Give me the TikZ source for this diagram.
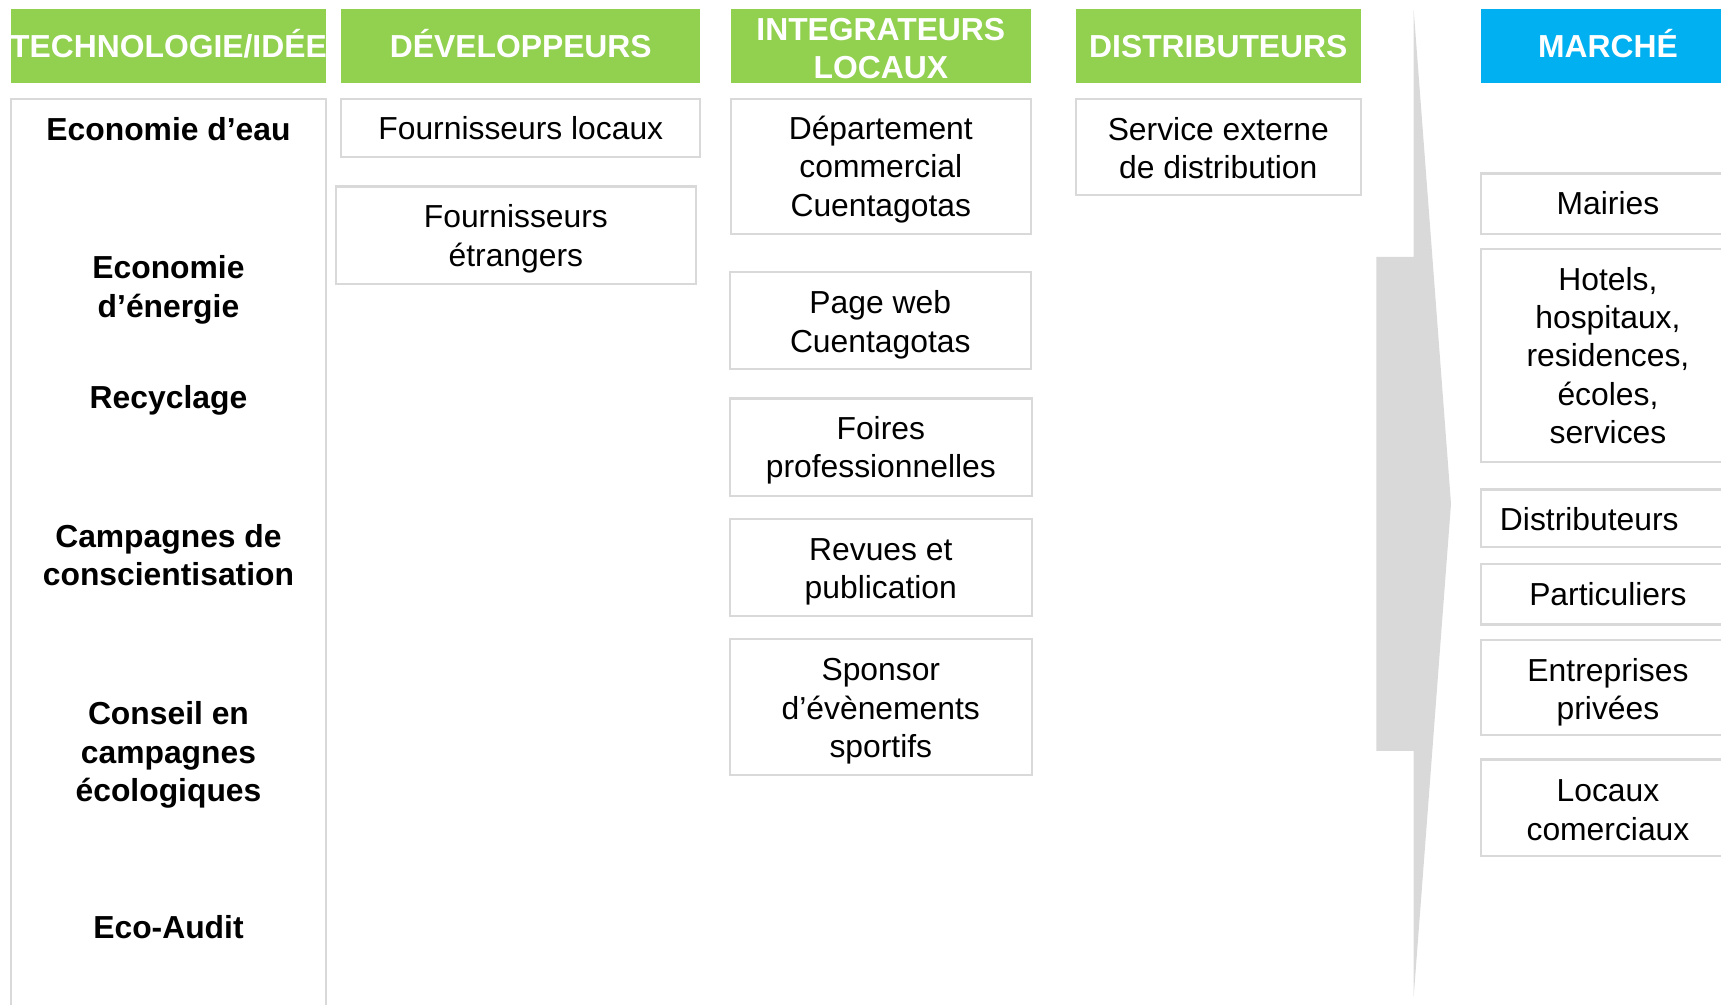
\documentclass[tikz,border=0pt]{standalone}
\usepackage{fontspec}
\setmainfont{Liberation Sans}
\definecolor{hgreen}{HTML}{92D050}
\definecolor{hblue}{HTML}{00B0F0}
\definecolor{cellborder}{HTML}{D9D9D9}
\definecolor{arrowgray}{HTML}{D9D9D9}
\tikzset{
  hdr/.style={fill=hgreen, draw=none, inner sep=0pt},
  hdrblue/.style={hdr, fill=hblue},
  hdrtext/.style={text=white, inner sep=0pt, align=center,
    font=\fontsize{14.5}{17.5}\selectfont\bfseries},
  cell/.style={draw=cellborder, line width=1pt, fill=white, inner sep=0pt},
  celltext/.style={inner sep=0pt, align=center, font=\fontsize{14.5}{17.5}\selectfont},
  techtext/.style={inner sep=0pt, align=center, font=\fontsize{14.5}{17.5}\selectfont\bfseries},
  bigbox/.style={draw=cellborder, line width=1pt, fill=white},
}
\begin{document}
\begin{tikzpicture}[x=0.5pt, y=-0.5pt]
\useasboundingbox (0,0) rectangle (1568,915);
% headers
\node[hdr, minimum width=143.5pt, minimum height=34pt] (h1) at (153.5,42) {};
\node[hdrtext] (h1t) at ([yshift=1pt]h1.center) {TECHNOLOGIE/IDÉE};
\node[hdr, minimum width=163.5pt, minimum height=34pt] (h2) at (474.5,42) {};
\node[hdrtext] (h2t) at ([yshift=1pt]h2.center) {DÉVELOPPEURS};
\node[hdr, minimum width=136.5pt, minimum height=34pt] (h3) at (802.5,42) {};
\node[hdrtext] (h3t) at ([yshift=-1pt]h3.center) {INTEGRATEURS\\LOCAUX};
\node[hdr, minimum width=130pt, minimum height=34pt] (h4) at (1110,42) {};
\node[hdrtext] (h4t) at (h4.center) {DISTRIBUTEURS};
\node[hdrblue, minimum width=116pt, minimum height=34pt] (h5) at (1465,42) {};
\node[hdrtext] (h5t) at ([yshift=1pt]h5.center) {MARCHÉ};
% column 1
\draw[bigbox] (10,90) rectangle (297,935);
\node[techtext] (t1) at (153.5,118) {Economie d’eau};
\node[techtext] (t2) at (153.5,264) {Economie\\d’énergie};
\node[techtext] (t3) at (153.5,365) {Recyclage};
\node[techtext] (t4) at (153.5,506) {Campagnes de\\conscientisation};
\node[techtext] (t5) at (153.5,688) {Conseil en\\campagnes\\écologiques};
\node[techtext] (t6) at (153.5,845) {Eco-Audit};
% column 2
\node[cell, minimum width=163.5pt, minimum height=26.5pt] (d1) at (474.5,116.5) {};
\node[celltext] (d1t) at (d1.center) {Fournisseurs locaux};
\node[cell, minimum width=164pt, minimum height=44.5pt] (d2) at (470,214.5) {};
\node[celltext] (d2t) at ([yshift=-1.5pt]d2.center) {Fournisseurs\\étrangers};
% column 3
\node[cell, minimum width=136.5pt, minimum height=61.5pt] (i1) at (802.5,151.5) {};
\node[celltext] (i1t) at ([yshift=-1.5pt]i1.center) {Département\\commercial\\Cuentagotas};
\node[cell, minimum width=137pt, minimum height=44pt] (i2) at (802,292) {};
\node[celltext] (i2t) at ([yshift=-2pt]i2.center) {Page web\\Cuentagotas};
\node[cell, minimum width=137.5pt, minimum height=44.5pt] (i3) at (802.5,407.5) {};
\node[celltext] (i3t) at ([yshift=-1.5pt]i3.center) {Foires\\professionnelles};
\node[cell, minimum width=137.5pt, minimum height=44pt] (i4) at (802.5,517) {};
\node[celltext] (i4t) at ([yshift=-2pt]i4.center) {Revues et\\publication};
\node[cell, minimum width=137.5pt, minimum height=62pt] (i5) at (802.5,644) {};
\node[celltext] (i5t) at ([yshift=-2pt]i5.center) {Sponsor\\d’évènements\\sportifs};
% column 4
\node[cell, minimum width=130pt, minimum height=44pt] (s1) at (1110,134) {};
\node[celltext] (s1t) at ([yshift=-0.5pt]s1.center) {Service externe\\de distribution};
% arrow
\fill[arrowgray] (1254,234) -- (1288,234) -- (1288,9) -- (1322,459) -- (1288,908) -- (1288,684) -- (1254,684) -- cycle;
% column 5
\node[cell, minimum width=116pt, minimum height=27.5pt] (m1) at (1465,185.5) {};
\node[celltext] (m1t) at (m1.center) {Mairies};
\node[cell, minimum width=116pt, minimum height=97pt] (m2) at (1465,324) {};
\node[celltext] (m2t) at (m2.center) {Hotels,\\hospitaux,\\residences,\\écoles,\\services};
\node[cell, minimum width=116pt, minimum height=26pt] (m3) at (1465,472) {};
\node[celltext] (m3t) at ([xshift=-8.5pt, yshift=-0.5pt]m3.center) {Distributeurs};
\node[cell, minimum width=116pt, minimum height=27.5pt] (m4) at (1465,541.5) {};
\node[celltext] (m4t) at (m4.center) {Particuliers};
\node[cell, minimum width=116pt, minimum height=43.5pt] (m5) at (1465,626.5) {};
\node[celltext] (m5t) at ([yshift=-2pt]m5.center) {Entreprises\\privées};
\node[cell, minimum width=116pt, minimum height=44pt] (m6) at (1465,736) {};
\node[celltext] (m6t) at ([yshift=-1pt]m6.center) {Locaux\\comerciaux};
\end{tikzpicture}
\end{document}
